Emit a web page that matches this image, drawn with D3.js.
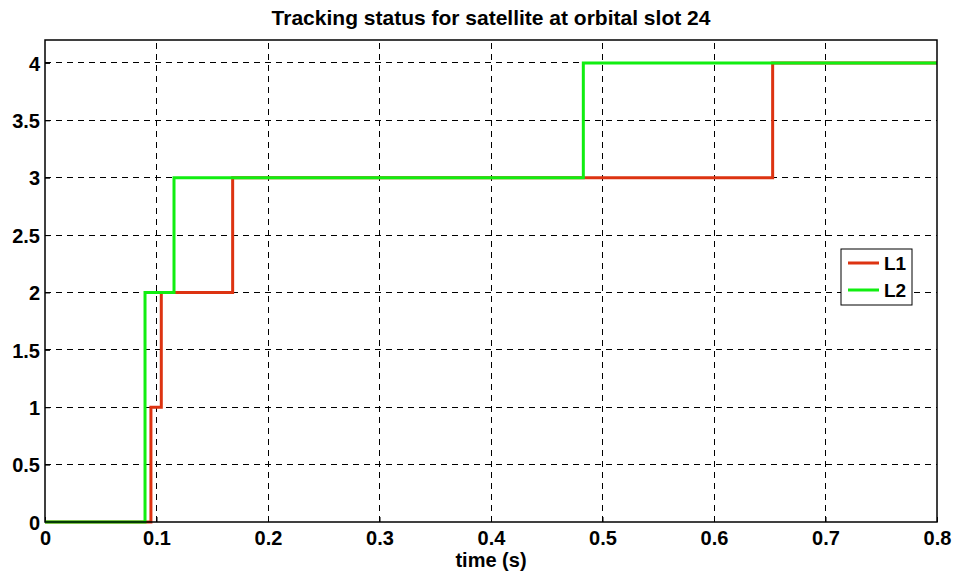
<!DOCTYPE html>
<html>
<head>
<meta charset="utf-8">
<script src="https://cdn.jsdelivr.net/npm/d3@7"></script>
<style>
  html, body { margin: 0; padding: 0; background: #fff; }
  svg text { font-family: "Liberation Sans", Arial, Helvetica, sans-serif; font-weight: bold; fill: #000; }
</style>
</head>
<body>
<svg id="chart" width="956" height="574"></svg>
<script>
// Tracking status step data (time in seconds, status level)
const l1Times  = [0, 0.095, 0.1043, 0.1683, 0.6526, 0.8];
const l1Status = [0, 1, 2, 3, 4, 4];
const l2Times  = [0, 0.0897, 0.1157, 0.4828, 0.8];
const l2Status = [0, 2, 3, 4, 4];
const xTicks = [0, 0.1, 0.2, 0.3, 0.4, 0.5, 0.6, 0.7, 0.8];
const yTicks = [0, 0.5, 1, 1.5, 2, 2.5, 3, 3.5, 4];
const seriesNames = ["L1", "L2"];
const seriesColors = ["#dd3311", "#11ee11"];

const svg = d3.select("#chart");
const margin = { left: 45, right: 19, top: 40, bottom: 52 };
const W = 956, H = 574;
const x = d3.scaleLinear().domain([0, 0.8]).range([margin.left, W - margin.right]);
const y = d3.scaleLinear().domain([0, 4.2]).range([H - margin.bottom, margin.top]);

// grid lines
const grid = svg.append("g");
grid.selectAll("line.gx").data(xTicks.slice(1, -1)).join("line")
  .attr("x1", d => x(d)).attr("x2", d => x(d))
  .attr("y1", y(0)).attr("y2", y(4.2))
  .attr("stroke", "#000").attr("stroke-width", 1).attr("stroke-dasharray", "6,5")
  .attr("shape-rendering", "crispEdges");
grid.selectAll("line.gy").data(yTicks.slice(1)).join("line")
  .attr("x1", x(0)).attr("x2", x(0.8))
  .attr("y1", d => y(d)).attr("y2", d => y(d))
  .attr("stroke", "#000").attr("stroke-width", 1).attr("stroke-dasharray", "6,5")
  .attr("shape-rendering", "crispEdges");

// axes with inward ticks
const fmt = d => d3.format("")(d);
const xAxis = d3.axisBottom(x).tickValues(xTicks).tickSize(-5).tickFormat(fmt);
const yAxis = d3.axisLeft(y).tickValues(yTicks).tickSize(-5).tickPadding(5).tickFormat(fmt);
const gx = svg.append("g").attr("transform", `translate(0,${y(0)})`).call(xAxis);
const gy = svg.append("g").attr("transform", `translate(${x(0)},0)`).call(yAxis);
[gx, gy].forEach(g => {
  g.select(".domain").remove();
  g.selectAll(".tick line").attr("stroke", "#000");
  g.selectAll(".tick text").style("font-size", "20px").style("font-weight", "bold")
    .style("font-family", '"Liberation Sans", Arial, sans-serif');
});
gx.selectAll(".tick text").attr("y", 23).attr("dy", "0");
gy.selectAll(".tick text").attr("dy", "0.36em");

// step lines
const line = d3.line().x(d => x(d[0])).y(d => y(d[1])).curve(d3.curveStepAfter);
const series = [
  { name: seriesNames[0], color: seriesColors[0], pts: d3.zip(l1Times, l1Status) },
  { name: seriesNames[1], color: seriesColors[1], pts: d3.zip(l2Times, l2Status) }
];
svg.append("g").selectAll("path").data(series).join("path")
  .attr("d", d => line(d.pts))
  .attr("fill", "none").attr("stroke", d => d.color).attr("stroke-width", 3);

// plot box
svg.append("rect")
  .attr("x", x(0)).attr("y", y(4.2))
  .attr("width", x(0.8) - x(0)).attr("height", y(0) - y(4.2))
  .attr("fill", "none").attr("stroke", "#000").attr("stroke-width", 1.5);

// title and axis label
svg.append("text").attr("x", (x(0) + x(0.8)) / 2).attr("y", 25)
  .attr("text-anchor", "middle").style("font-size", "21px")
  .text("Tracking status for satellite at orbital slot 24");
svg.append("text").attr("x", (x(0) + x(0.8)) / 2).attr("y", 567)
  .attr("text-anchor", "middle").style("font-size", "20px")
  .text("time (s)");

// legend
const lg = svg.append("g").attr("transform", "translate(841,249)");
lg.append("rect").attr("width", 71).attr("height", 56)
  .attr("fill", "#fff").attr("stroke", "#000").attr("stroke-width", 1);
series.forEach((s, i) => {
  const yy = 14 + i * 27;
  lg.append("line").attr("x1", 7).attr("x2", 38).attr("y1", yy).attr("y2", yy)
    .attr("stroke", s.color).attr("stroke-width", 3);
  lg.append("text").attr("x", 43).attr("y", yy).attr("dy", "0.36em")
    .style("font-size", "19px").text(s.name);
});
</script>
</body>
</html>
